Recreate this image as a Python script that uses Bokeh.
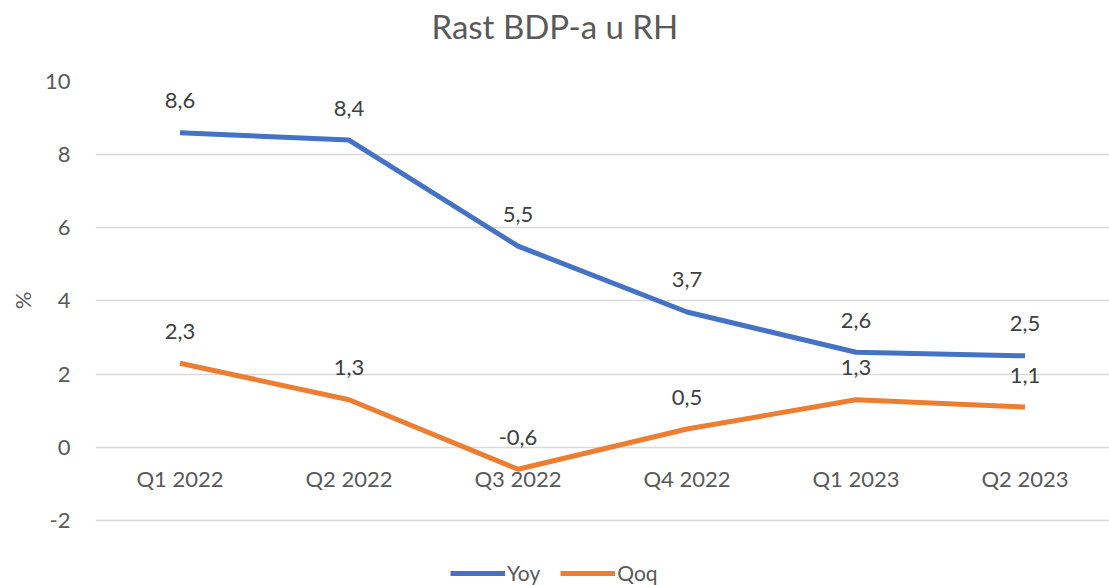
from bokeh.plotting import figure
from bokeh.models import ColumnDataSource, Range1d, Legend, LegendItem, Title
from bokeh.embed import file_html
from bokeh.resources import INLINE
from bokeh.core.properties import value

categories = ["Q1 2022", "Q2 2022", "Q3 2022", "Q4 2022", "Q1 2023", "Q2 2023"]
yoy = [8.6, 8.4, 5.5, 3.7, 2.6, 2.5]
qoq = [2.3, 1.3, -0.6, 0.5, 1.3, 1.1]
y_ticks = [-2, 0, 2, 4, 6, 8, 10]
title_text = "Rast BDP-a u RH"
y_label = "%"

FONT = "Lato"
BLUE = "#4472C4"
ORANGE = "#ED7D31"

def fmt(v):
    return ("%.1f" % v).replace(".", ",")

src_yoy = ColumnDataSource(dict(x=categories, y=yoy, lbl=[fmt(v) for v in yoy]))
src_qoq = ColumnDataSource(dict(x=categories, y=qoq, lbl=[fmt(v) for v in qoq]))
src_cat = ColumnDataSource(dict(x=categories, y=[0] * len(categories)))

# frame runs to the bottom edge; -2 gridline sits 65px above it
p = figure(x_range=categories, y_range=Range1d(-3.777, 10), width=1109, height=585,
           output_backend="svg", toolbar_location=None,
           min_border_left=91, min_border_right=0, min_border_top=81, min_border_bottom=0)
p.outline_line_color = None
p.background_fill_color = "white"
p.border_fill_color = "white"

# main title (outermost)
p.title.text = title_text
p.title.align = "left"
p.title.offset = 336
p.title.standoff = 2
p.title.text_font = FONT
p.title.text_font_size = "33px"
p.title.text_font_style = "normal"
p.title.text_color = "#595959"

# spacer between title and plot area
p.add_layout(Title(text=" ", text_font=FONT, text_font_size="10px", standoff=21), "above")

# y axis title
p.add_layout(Title(text=y_label, align="right", offset=210, standoff=12,
                   text_font=FONT, text_font_size="22px", text_font_style="normal",
                   text_color="#595959"), "left")

r1 = p.line("x", "y", source=src_yoy, line_color=BLUE, line_width=5)
r2 = p.line("x", "y", source=src_qoq, line_color=ORANGE, line_width=5)

for s in (src_yoy, src_qoq):
    p.text("x", "y", text="lbl", source=s, text_align="center", text_baseline="middle",
           y_offset=-32, text_font=value(FONT), text_font_size="22px", text_color="#404040")

# category labels sit just below the zero line, as in the original
p.text("x", "y", text="x", source=src_cat, text_align="center", text_baseline="middle",
       y_offset=31, text_font=value(FONT), text_font_size="22px", text_color="#595959")
p.xaxis.visible = False

p.yaxis.ticker = y_ticks
p.yaxis.major_label_overrides = {-2: "-2"}
p.yaxis.axis_line_color = None
p.yaxis.major_tick_line_color = None
p.yaxis.minor_tick_line_color = None
p.yaxis.major_tick_out = 0
p.yaxis.minor_tick_out = 0
p.yaxis.major_label_text_font = FONT
p.yaxis.major_label_text_font_size = "22px"
p.yaxis.major_label_text_color = "#595959"
p.yaxis.major_label_standoff = 25

p.xgrid.grid_line_color = None
p.ygrid.grid_line_color = "#D9D9D9"
p.ygrid.grid_line_width = 1.5

legend = Legend(items=[LegendItem(label="Yoy", renderers=[r1]), LegendItem(label="Qoq", renderers=[r2])],
                orientation="horizontal", location=(355, 0))
legend.border_line_color = None
legend.background_fill_alpha = 0
legend.label_text_font = FONT
legend.label_text_font_size = "21px"
legend.label_text_color = "#595959"
legend.glyph_width = 55
legend.glyph_height = 16
legend.label_height = 16
legend.label_standoff = 2
legend.spacing = 20
legend.padding = 0
legend.margin = 0
p.add_layout(legend, "center")

open("out.html", "w").write(file_html(p, INLINE))
